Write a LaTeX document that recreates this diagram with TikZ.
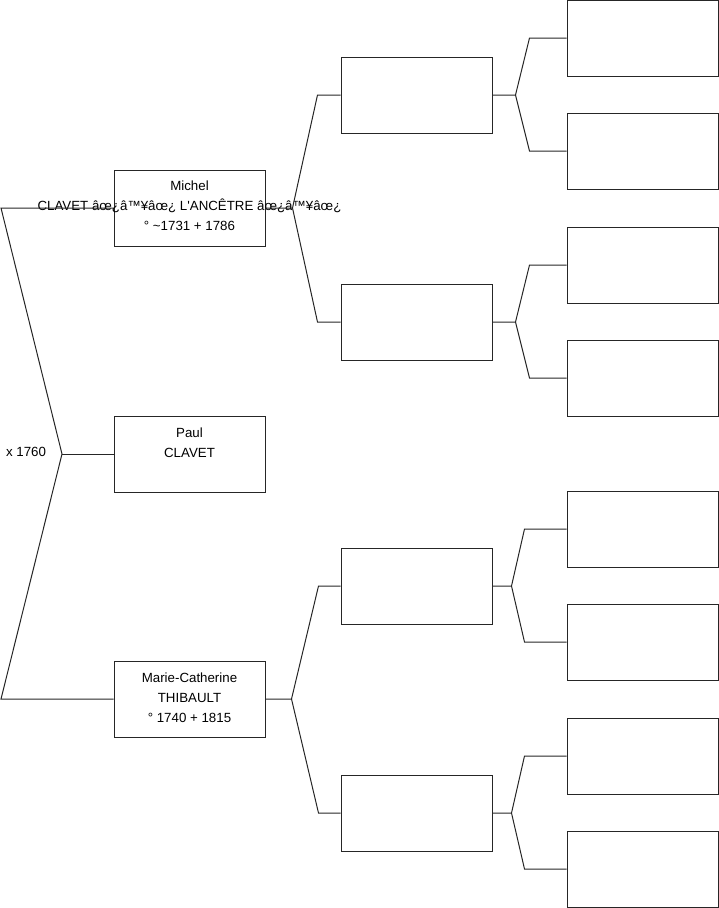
\documentclass[tikz,border=0pt]{standalone}
\usepackage{fontspec}
\setmainfont{Liberation Sans}
\usetikzlibrary{positioning}

\tikzset{
  person/.style={draw=black!85,line width=1pt,minimum width=151pt,minimum height=76pt,inner sep=0},
  link/.style={draw=black!85,line width=1pt},
  who/.style={anchor=north,align=center,inner sep=0,font=\fontsize{13.3}{20}\selectfont}
}

\begin{document}
\begin{tikzpicture}[x=1pt,y=-1pt]
\useasboundingbox (0,0) rectangle (719,908);
% couple
\node[person] (mich) at (189.5,208) {};
\node[who] (mich text) at ([yshift=-11.3pt]mich.north) {Michel\\CLAVET âœ¿â™¥âœ¿ L\textquotesingle ANCÊTRE âœ¿â™¥âœ¿\\° \textasciitilde1731 + 1786};
\node[person] (paul) at (189.5,454) {};
\node[who] (paul text) at ([yshift=-12.3pt]paul.north) {Paul\\CLAVET};
\node[person] (marie) at (189.5,699) {};
\node[who] (marie text) at ([yshift=-11.8pt]marie.north) {Marie-Catherine\\THIBAULT\\° 1740 + 1815};
\node[font=\fontsize{13.3}{20}\selectfont] (wed) at (26,452) {x 1760};
% parents and grandparents (empty)
\foreach \n/\y in {g1/95,g2/322,g3/586,g4/813} \node[person] (\n) at (416.5,\y) {};
\foreach \n/\y in {a1/38,a2/151,a3/265,a4/378,a5/529,a6/642,a7/756,a8/869} \node[person] (\n) at (642.5,\y) {};
% bracket of the marriage
\coordinate (lt) at (1,208);
\coordinate (lm) at (62,454);
\coordinate (lb) at (1,699);
\draw[link] (mich.west) -- (lt) -- (lm) -- (lb) -- (marie.west);
\draw[link] (lm) -- (paul.west);
% forks to the ancestors
\foreach \p/\a/\b/\d/\e in {mich/g1/g2/27/23, marie/g3/g4/26/22, g1/a1/a2/23/37, g2/a3/a4/23/37, g3/a5/a6/19/42, g4/a7/a8/19/42}{
  \draw[link] (\p.east) -- ++(\d,0) coordinate (v) -- ([xshift=-\e]\a.west) -- (\a.west);
  \draw[link] (v) -- ([xshift=-\e]\b.west) -- (\b.west);
}
\end{tikzpicture}
\end{document}
